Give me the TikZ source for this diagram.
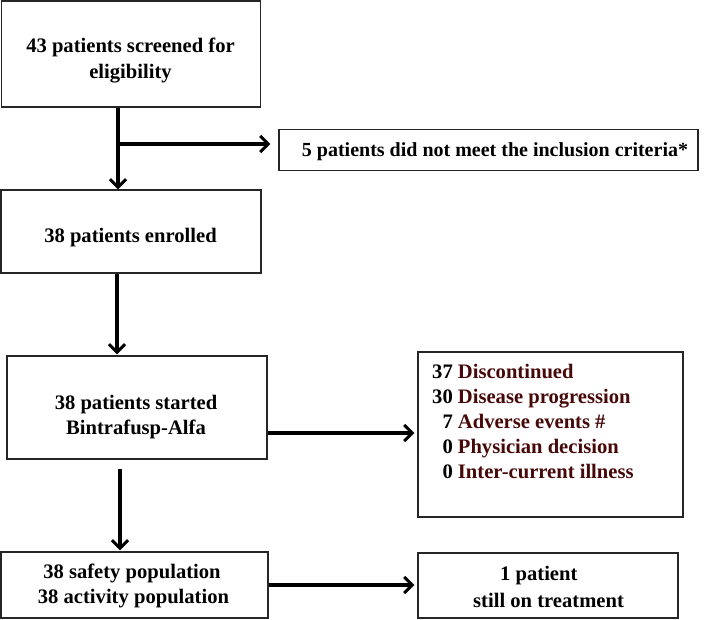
\documentclass[tikz,border=0pt]{standalone}
\usepackage{fontspec}
\setmainfont{Liberation Serif}[BoldFont={Liberation Serif Bold}]
\usetikzlibrary{arrows.meta,calc}
\definecolor{wordred}{RGB}{70,8,8}
\begin{document}
\begin{tikzpicture}[x=1pt,y=-1pt,
  box/.style={draw=black!85,line width=1.3pt,rectangle,inner sep=0pt},
  txt/.style={inner sep=0pt,anchor=base,font=\fontsize{20.6}{25}\selectfont\bfseries},
  txtl/.style={txt,anchor=base west},
  flow/.style={line width=3.4pt,-{Straight Barb[length=8pt,width=16pt,line width=3pt]}}]
\useasboundingbox (0,0) rectangle (709,620);
% boxes
\node[box,minimum width=259pt,minimum height=106pt] (b1) at (131,54) {};
\node[box,minimum width=419pt,minimum height=41pt] (b5) at (488.5,150) {};
\node[box,minimum width=260pt,minimum height=83pt] (b2) at (131,231.5) {};
\node[box,minimum width=260pt,minimum height=103pt] (b3) at (137,407.5) {};
\node[box,minimum width=265pt,minimum height=165pt] (b6) at (550.5,434.5) {};
\node[box,minimum width=267pt,minimum height=66pt] (b4) at (134.5,585) {};
\node[box,minimum width=260pt,minimum height=65pt] (b7) at (548,585.5) {};
% texts
\node[txt] (t1a) at (130.5,53) {43 patients screened for};
\node[txt] (t1b) at (130.5,79) {eligibility};
\node[txt,font=\fontsize{20}{25}\selectfont\bfseries] (t5) at (495,157)
  {5 patients did not meet the inclusion criteria*};
\node[txt] (t2) at (130.5,243) {38 patients enrolled};
\node[txt] (t3a) at (136,409) {38 patients started};
\node[txt] (t3b) at (136,434) {Bintrafusp-Alfa};
\node[txtl] (t6a) at (432,378) {37 \textcolor{wordred}{Discontinued}};
\node[txtl] (t6b) at (432,403) {30 \textcolor{wordred}{Disease progression}};
\node[txtl] (t6c) at (432,428) {\phantom{3}7 \textcolor{wordred}{Adverse events \#}};
\node[txtl] (t6d) at (432,453) {\phantom{3}0 \textcolor{wordred}{Physician decision}};
\node[txtl] (t6e) at (432,478) {\phantom{3}0 \textcolor{wordred}{Inter-current illness}};
\node[txt] (t4a) at (132,578) {38 safety population};
\node[txt] (t4b) at (133.5,603) {38 activity population};
\node[txtl] (t7a) at (500,580) {1 patient};
\node[txtl] (t7b) at (473,607) {still on treatment};
% connectors
\coordinate (c1) at (118,0);
\coordinate (c2) at (117,0);
\coordinate (c3) at (120,0);
\coordinate (br) at (116.5,144);
\coordinate (h1) at (0,433);
\coordinate (h2) at (0,585);
\draw[flow] (b1.south -| c1) -- (b2.north -| c1);
\draw[flow] (br) -- ($(br -| b5.west)+(-8,0)$);
\draw[flow] (b2.south -| c2) -- ($(b3.north -| c2)+(0,-1)$);
\draw[flow] ($(b3.south -| c3)+(0,9)$) -- ($(b4.north -| c3)+(0,-1)$);
\draw[flow] (b3.east |- h1) -- ($(b6.west |- h1)+(-3,0)$);
\draw[flow] (b4.east |- h2) -- ($(b7.west |- h2)+(-3,0)$);
\end{tikzpicture}
\end{document}
